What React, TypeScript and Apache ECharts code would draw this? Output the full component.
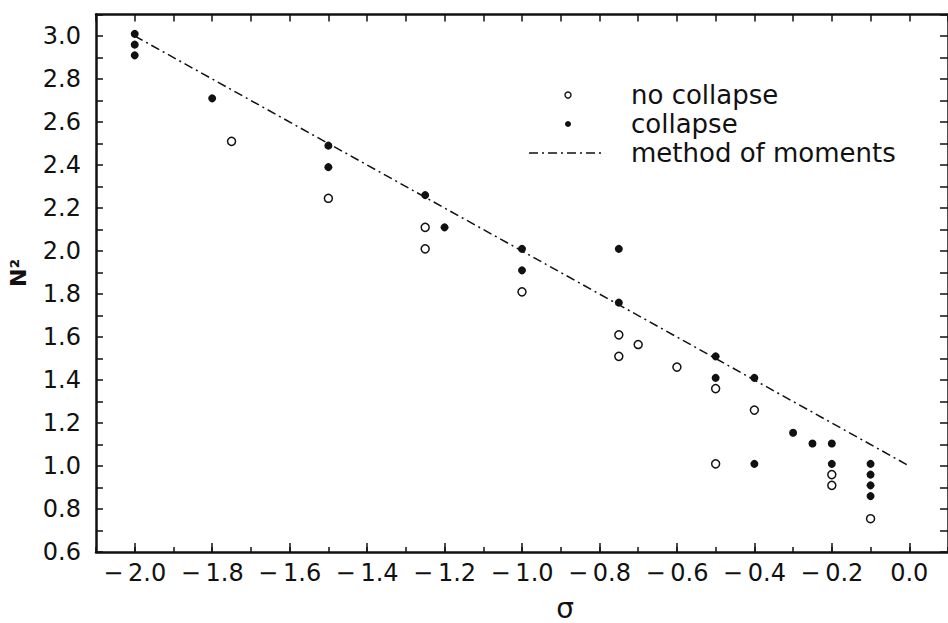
import React, { useEffect, useRef } from "react";
import * as echarts from "echarts";

// --- data ---
const noCollapseSigma = [-1.75, -1.5, -1.25, -1.25, -1.0, -0.75, -0.7, -0.75, -0.6, -0.5, -0.5, -0.4, -0.2, -0.2, -0.1];
const noCollapseN2 = [2.51, 2.245, 2.11, 2.01, 1.81, 1.61, 1.565, 1.51, 1.46, 1.36, 1.01, 1.26, 0.96, 0.91, 0.755];

const collapseSigma = [-2.0, -2.0, -2.0, -1.8, -1.5, -1.5, -1.25, -1.2, -1.0, -1.0, -0.75, -0.75, -0.5, -0.5, -0.4, -0.4, -0.3, -0.25, -0.2, -0.2, -0.1, -0.1, -0.1, -0.1];
const collapseN2 = [3.01, 2.96, 2.91, 2.71, 2.49, 2.39, 2.26, 2.11, 2.01, 1.91, 2.01, 1.76, 1.51, 1.41, 1.41, 1.01, 1.155, 1.105, 1.105, 1.01, 1.01, 0.96, 0.91, 0.86];

const momentsSigma = [-2.0, 0.0];
const momentsN2 = [3.0, 1.0];

const xTickLabels = [-2.0, -1.8, -1.6, -1.4, -1.2, -1.0, -0.8, -0.6, -0.4, -0.2, 0.0];
const yTickLabels = [0.6, 0.8, 1.0, 1.2, 1.4, 1.6, 1.8, 2.0, 2.2, 2.4, 2.6, 2.8, 3.0];

const legendLabels = ["no collapse", "collapse", "method of moments"];

const FONT = "DejaVu Sans";
const INK = "#111";

const fmt = (v: number) => (v < -1e-9 ? "\u2212" : "") + Math.abs(v).toFixed(1);

export default function App() {
  const ref = useRef<HTMLDivElement>(null);
  useEffect(() => {
    if (!ref.current) return;
    const chart = echarts.init(ref.current, null, { renderer: "svg" });
    const xBase = { type: "value", min: -2.1, max: 0.1, interval: 0.1, splitLine: { show: false } };
    const yBase = { type: "value", min: 0.6, max: 3.1, interval: 0.1, splitLine: { show: false } };
    const zip = (a: number[], b: number[]) => a.map((v, i) => [v, b[i]]);
    chart.setOption({
      animation: false,
      backgroundColor: "#fff",
      grid: { left: 96, right: -4, top: 14.5, bottom: 71, containLabel: false },
      xAxis: [
        {
          ...xBase,
          position: "bottom",
          axisLine: { show: true, onZero: false, lineStyle: { color: INK, width: 2.5 } },
          axisTick: { show: true, inside: true, length: 9, customValues: xTickLabels, lineStyle: { color: INK, width: 1.5 } },
          axisLabel: {
            show: true,
            customValues: xTickLabels,
            formatter: (v: number) => fmt(v).replace("\u2212", "\u2212\u2009"),
            color: INK,
            fontFamily: FONT,
            fontSize: 24,
            margin: 9,
          },
        },
        {
          ...xBase,
          position: "bottom",
          axisLine: { show: false, onZero: false },
          axisTick: { show: true, inside: true, length: 5, lineStyle: { color: INK, width: 1.5 } },
          axisLabel: { show: false },
        },
        {
          ...xBase,
          position: "top",
          axisLine: { show: true, onZero: false, lineStyle: { color: INK, width: 2.5 } },
          axisTick: { show: true, inside: true, length: 7, lineStyle: { color: INK, width: 1.5 } },
          axisLabel: { show: false },
        },
      ],
      yAxis: [
        {
          ...yBase,
          position: "left",
          axisLine: { show: true, onZero: false, lineStyle: { color: INK, width: 2.5 } },
          axisTick: { show: true, inside: true, length: 7, lineStyle: { color: INK, width: 1.5 } },
          axisLabel: {
            show: true,
            customValues: yTickLabels,
            formatter: fmt,
            color: INK,
            fontFamily: FONT,
            fontSize: 24,
            margin: 15,
          },
        },
        {
          ...yBase,
          position: "right",
          axisLine: { show: true, onZero: false, lineStyle: { color: INK, width: 2.5 } },
          axisTick: { show: true, inside: true, length: 8, lineStyle: { color: INK, width: 1.5 } },
          axisLabel: { show: false },
        },
      ],
      series: [
        {
          name: "method of moments",
          type: "line",
          data: zip(momentsSigma, momentsN2),
          symbol: "none",
          lineStyle: { color: INK, width: 1.5, type: [9, 4, 2, 4] },
          z: 1,
        },
        {
          name: "no collapse",
          type: "scatter",
          data: zip(noCollapseSigma, noCollapseN2),
          symbol: "circle",
          symbolSize: 8,
          itemStyle: { color: "#fff", borderColor: INK, borderWidth: 1.5, opacity: 1 },
          z: 3,
        },
        {
          name: "collapse",
          type: "scatter",
          data: zip(collapseSigma, collapseN2),
          symbol: "circle",
          symbolSize: 8,
          itemStyle: { color: INK, opacity: 1 },
          z: 3,
        },
      ],
      graphic: [
        {
          type: "text",
          x: 18,
          y: 273,
          rotation: Math.PI / 2,
          style: { text: "N\u00B2", fontFamily: FONT, fontWeight: "bold", fontSize: 22, fill: INK, align: "center", verticalAlign: "middle" },
        },
        {
          type: "text",
          x: 565,
          y: 608,
          style: { text: "\u03C3", fontFamily: FONT, fontSize: 28, fill: INK, align: "center", verticalAlign: "middle" },
        },
        { type: "circle", shape: { cx: 568, cy: 95, r: 3 }, style: { fill: "#fff", stroke: INK, lineWidth: 1.4 } },
        { type: "circle", shape: { cx: 568, cy: 124, r: 3 }, style: { fill: INK } },
        {
          type: "line",
          shape: { x1: 529, y1: 153, x2: 605, y2: 153 },
          style: { stroke: INK, lineWidth: 1.5, lineDash: [9, 4, 2, 4] },
        },
        ...legendLabels.map((t, i) => ({
          type: "text",
          x: 631,
          y: 95 + i * 29,
          style: { text: t, fontFamily: FONT, fontSize: 26, fill: INK, align: "left", verticalAlign: "middle" },
        })),
      ],
    });
    return () => chart.dispose();
  }, []);
  return <div ref={ref} style={{ position: "absolute", left: 0, top: 0, width: 948, height: 623 }} />;
}
